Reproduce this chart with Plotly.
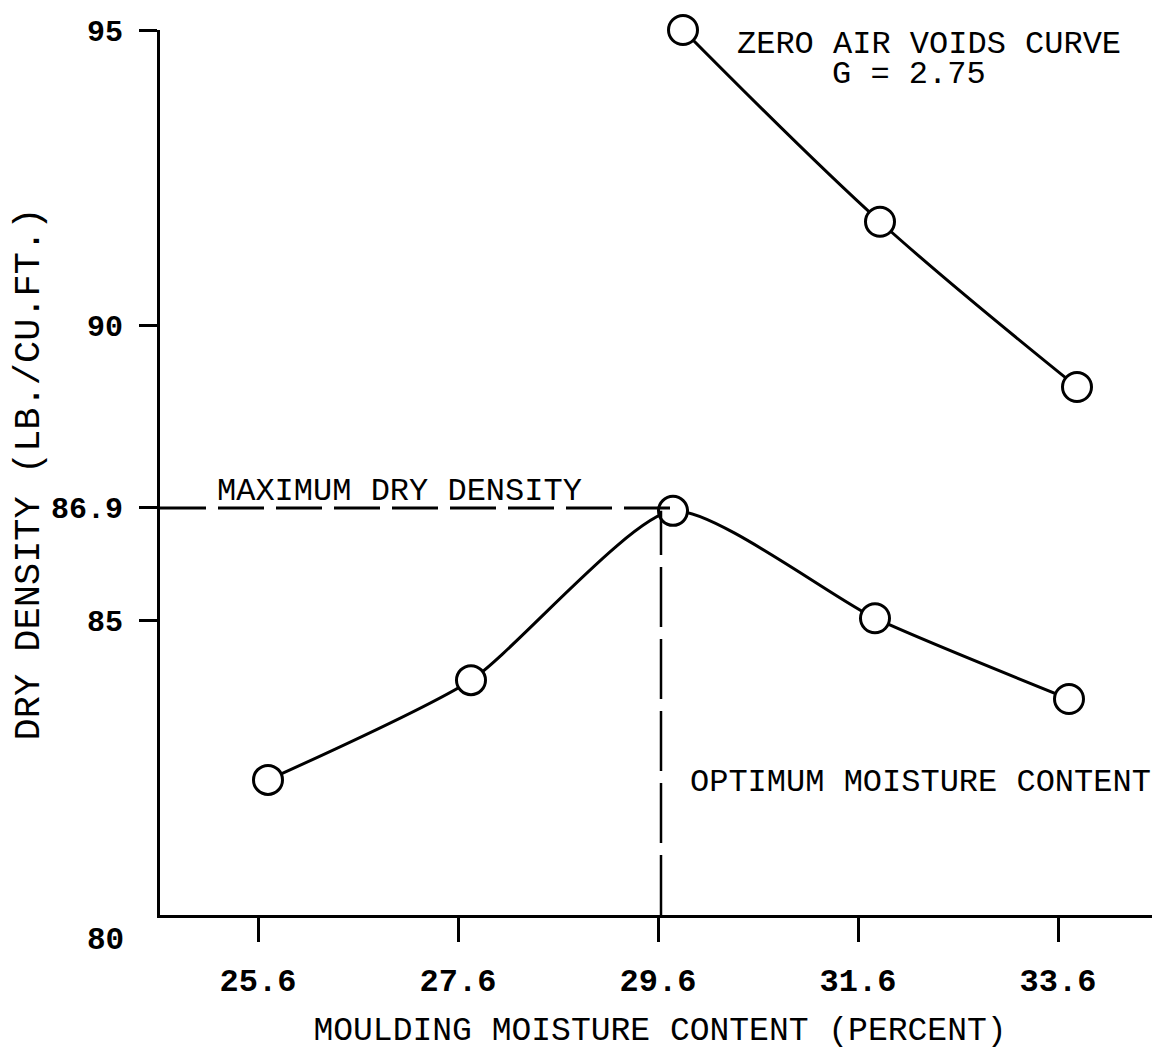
import plotly.graph_objects as go

# Data
lower_x = [25.70, 27.73, 29.75, 31.77, 33.71]
lower_y = [82.29, 83.98, 86.85, 85.03, 83.66]
zav_x = [29.85, 31.82, 33.79]
zav_y = [95.0, 91.75, 88.95]
x_ticks = [25.6, 27.6, 29.6, 31.6, 33.6]
x_ticktext = ["25.6", "27.6", "29.6", "31.6", "33.6"]
y_ticks = [85, 86.9, 90, 95]
y_ticktext = ["85", "86.9", "90", "95"]
max_dry_density = 86.9
optimum_moisture = 29.63

FONT = "Liberation Mono, Courier New, monospace"
X_MIN, X_MAX = 24.62, 34.62
Y_MIN, Y_MAX = 80, 95

fig = go.Figure()

marker = dict(symbol="circle", size=29, color="white", line=dict(color="black", width=3))

fig.add_trace(go.Scatter(
    x=lower_x, y=lower_y, mode="lines+markers",
    line=dict(color="black", width=3, shape="spline", smoothing=0.6),
    marker=marker, cliponaxis=False, showlegend=False))

fig.add_trace(go.Scatter(
    x=zav_x, y=zav_y, mode="lines+markers",
    line=dict(color="black", width=3, shape="spline", smoothing=1.0),
    marker=marker, cliponaxis=False, showlegend=False))

# dashed guide lines
fig.add_trace(go.Scatter(
    x=[X_MIN, lower_x[2]], y=[max_dry_density, max_dry_density], mode="lines",
    line=dict(color="black", width=3, dash="46px,12px"), showlegend=False))
fig.add_trace(go.Scatter(
    x=[optimum_moisture, optimum_moisture], y=[Y_MIN, lower_y[2]], mode="lines",
    line=dict(color="black", width=2.5, dash="60px,12px"), showlegend=False))

annots = [
    dict(x=30.37, y=94.75, text="ZERO AIR VOIDS CURVE", xanchor="left"),
    dict(x=31.32, y=94.24, text="G = 2.75", xanchor="left"),
    dict(x=25.17, y=87.17, text="MAXIMUM DRY DENSITY", xanchor="left"),
    dict(x=29.90, y=82.25, text="OPTIMUM MOISTURE CONTENT", xanchor="left"),
]
for a in annots:
    fig.add_annotation(xref="x", yref="y", yanchor="middle", showarrow=False,
                       font=dict(family=FONT, size=32, color="black"), **a)

# "80" label sits below the origin corner
fig.add_annotation(xref="paper", yref="y", x=0, y=Y_MIN, text="80",
                   xanchor="right", yanchor="middle", xshift=-34, yshift=-25,
                   showarrow=False, font=dict(family=FONT, size=31, color="black", weight="bold"))

# y-axis title, placed at the far left as in the reference
fig.add_annotation(xref="paper", yref="paper", x=0, y=0.5, text="DRY DENSITY (LB./CU.FT.)",
                   textangle=-90, xanchor="center", yanchor="middle", xshift=-132, yshift=-2,
                   showarrow=False, font=dict(family=FONT, size=37, color="black"))

fig.update_xaxes(
    range=[X_MIN, X_MAX], tickvals=x_ticks, ticktext=x_ticktext,
    showgrid=False, zeroline=False, showline=True, linecolor="black", linewidth=3,
    ticks="outside", ticklen=24, tickwidth=2.5, tickcolor="black",
    ticklabelstandoff=11,
    tickfont=dict(family=FONT, size=32, color="black", weight="bold"),
    title=dict(text="MOULDING MOISTURE CONTENT (PERCENT)", standoff=17,
               font=dict(family=FONT, size=33, color="black")))

fig.update_yaxes(
    range=[Y_MIN, Y_MAX], tickvals=y_ticks, ticktext=y_ticktext,
    showgrid=False, zeroline=False, showline=True, linecolor="black", linewidth=3,
    ticks="outside", ticklen=18, tickwidth=2.5, tickcolor="black",
    ticklabelstandoff=10,
    tickfont=dict(family=FONT, size=30, color="black", weight="bold"))

fig.update_layout(
    width=1160, height=1063,
    margin=dict(l=152, r=8, t=22, b=156, autoexpand=False),
    plot_bgcolor="white", paper_bgcolor="white",
    showlegend=False)

fig.write_html("out.html")
